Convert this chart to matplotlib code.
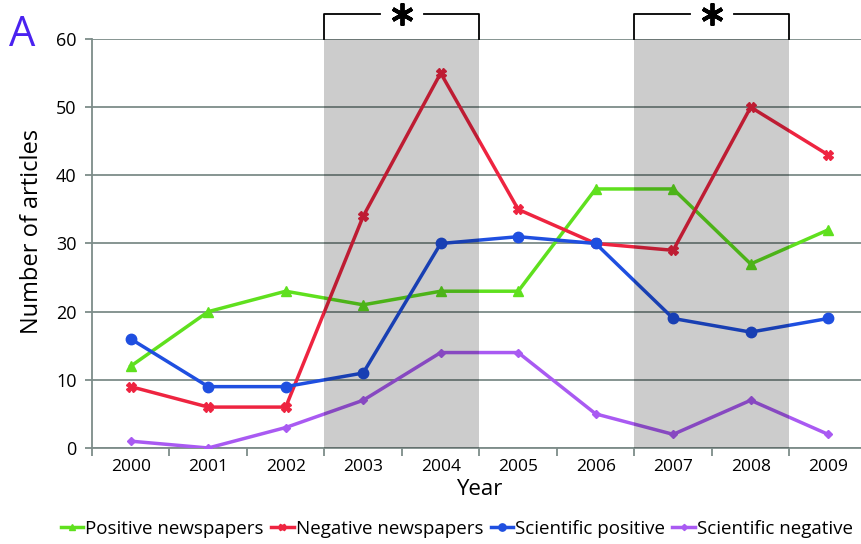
import matplotlib
matplotlib.use("Agg")
import matplotlib.pyplot as plt
import numpy as np

plt.rcParams["font.family"] = ["Open Sans", "DejaVu Sans"]

# Data
years = ["2000", "2001", "2002", "2003", "2004", "2005", "2006", "2007", "2008", "2009"]
positive_news = [12, 20, 23, 21, 23, 23, 38, 38, 27, 32]
negative_news = [9, 6, 6, 34, 55, 35, 30, 29, 50, 43]
sci_positive = [16, 9, 9, 11, 30, 31, 30, 19, 17, 19]
sci_negative = [1, 0, 3, 7, 14, 14, 5, 2, 7, 2]
shaded_spans = [("2003", "2004"), ("2007", "2008")]

grid_color = "#7d8c89"

fig = plt.figure(figsize=(8.62, 5.44), dpi=100)
ax = fig.add_axes([0.1067, 0.1765, 0.899, 0.7518])
x = np.arange(len(years))

series = [
    (positive_news, "#5fe01e", "^", 7, "Positive newspapers"),
    (negative_news, "#ee2440", "X", 7, "Negative newspapers"),
    (sci_positive, "#1f4fe0", "o", 7.5, "Scientific positive"),
    (sci_negative, "#a95af2", "D", 4.5, "Scientific negative"),
]
for vals, col, mk, ms, lab in series:
    ax.plot(x, vals, color=col, marker=mk, markersize=ms, linewidth=2.5,
            label=lab, zorder=3)

# Shaded periods drawn on top as a darkening layer (looks like multiply blend)
for a, b in shaded_spans:
    x0 = years.index(a) - 0.5
    x1 = years.index(b) + 0.5
    ax.axvspan(x0, x1, color="black", alpha=0.2, lw=0, zorder=4)
    # significance bracket above the axes
    xm = (x0 + x1) / 2
    ax.plot([x0, x0, xm - 0.28], [60, 63.6, 63.6], color="black", lw=1.3,
            clip_on=False, zorder=5)
    ax.plot([xm + 0.28, x1, x1], [63.6, 63.6, 60], color="black", lw=1.3,
            clip_on=False, zorder=5)
    ax.plot([xm], [63.6], marker=(6, 2, 0), markersize=16, mew=2.8,
            color="black", clip_on=False, zorder=5)

ax.set_xlim(-0.5, 9.5)
ax.set_ylim(0, 60)
ax.set_yticks(np.arange(0, 61, 10))
ax.yaxis.grid(True, color=grid_color, linewidth=1.3, zorder=1)
ax.set_axisbelow(True)

ax.set_xticks(np.arange(-0.5, 10, 1))
ax.set_xticklabels([])
ax.set_xticks(x, minor=True)
ax.set_xticklabels(years, minor=True)
ax.tick_params(axis="x", which="major", length=6, width=1.3, color=grid_color)
ax.tick_params(axis="x", which="minor", length=0, pad=8, labelsize=12.5)
ax.tick_params(axis="y", length=5, width=1.3, color=grid_color, labelsize=13, pad=6)

for side in ["top", "right"]:
    ax.spines[side].set_visible(False)
for side in ["left", "bottom"]:
    ax.spines[side].set_color(grid_color)
    ax.spines[side].set_linewidth(1.3)

ax.set_xlabel("Year", fontsize=16, labelpad=3)
ax.set_ylabel("Number of articles", fontsize=17)
ax.yaxis.set_label_coords(-0.062, 0.53)

fig.text(0.01, 0.935, "A", color="#4a22f0", fontsize=30, ha="left", va="center")

fig.legend(loc="lower center", bbox_to_anchor=(0.53, -0.02), ncol=4, frameon=False,
           fontsize=13.5, handlelength=1.2, handletextpad=0.1, columnspacing=0.4,
           markerscale=0.7)

fig.savefig("out.png", dpi=100)
